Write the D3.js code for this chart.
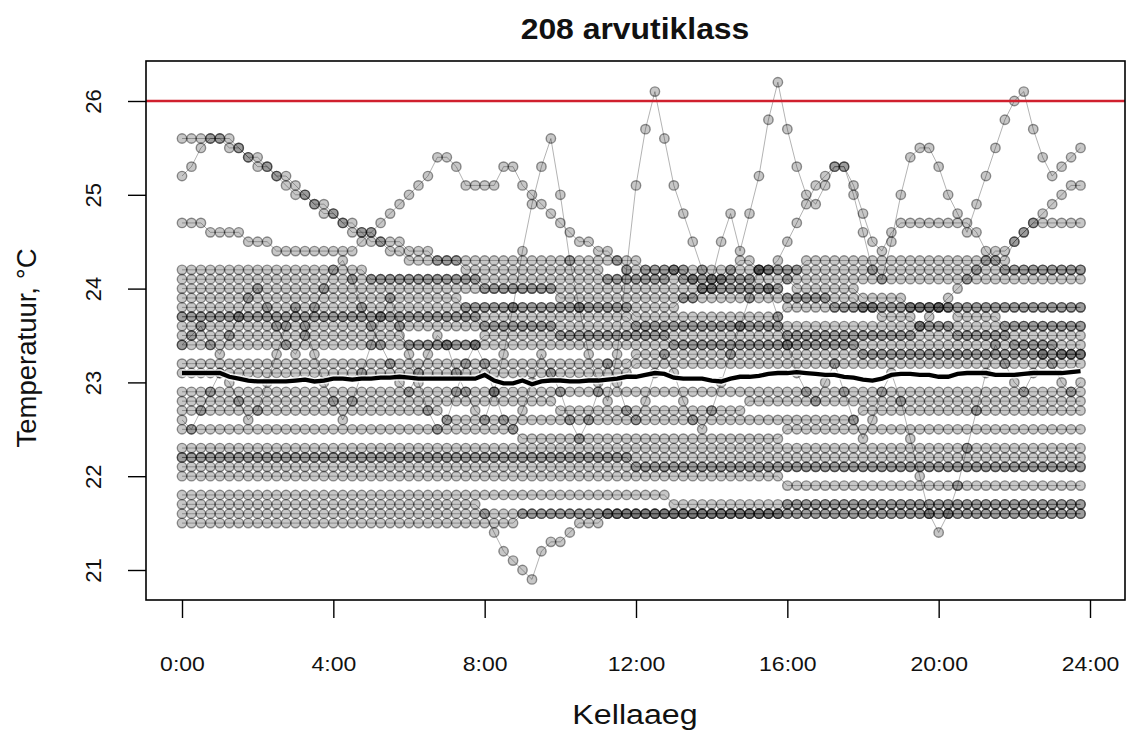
<!DOCTYPE html>
<html lang="et">
<head>
<meta charset="utf-8">
<title>208 arvutiklass</title>
<script src="https://cdn.jsdelivr.net/npm/d3@7"></script>
<style>
  body { margin: 0; background: #fff; }
  text { font-family: "Liberation Sans", Arial, sans-serif; fill: #111; }
</style>
</head>
<body>
<div id="chart"></div>
<script>
// tick values and labels
const xTicks = [0, 4, 8, 12, 16, 20, 24];
const xTickLabels = ["0:00", "4:00", "8:00", "12:00", "16:00", "20:00", "24:00"];
const yTicks = [21, 22, 23, 24, 25, 26];
const limit = 26;      // red line
const step = 0.25;     // hours between readings (15 min)

// one array per day, 96 readings from 0:00 to 23:45
const s01 = [25.2,25.3,25.5,25.6, 25.6,25.5,25.5,25.4, 25.3,25.3,25.2,25.1, 25.0,25.0,24.9,24.8, 24.8,24.7,24.6,24.6, 24.5,24.5,24.4,24.4,
  24.3,24.3,24.3,24.3, 24.3,24.3,24.2,24.2, 24.2,24.2,24.2,24.2, 24.2,24.2,24.2,24.2, 24.2,24.2,24.2,24.2, 24.2,24.1,24.1,24.1,
  24.1,24.1,24.1,24.1, 24.1,24.1,24.1,24.0, 24.0,24.0,24.0,24.0, 24.0,24.0,24.0,24.0, 23.9,23.9,23.9,23.9, 23.9,23.8,23.8,23.8,
  23.8,23.8,23.7,23.7, 23.7,23.7,23.6,23.6, 23.6,23.6,23.5,23.5, 23.5,23.5,23.5,23.5, 23.4,23.4,23.4,23.4, 23.4,23.3,23.3,23.3];
const s02 = [25.6,25.6,25.6,25.6, 25.6,25.6,25.5,25.4, 25.4,25.3,25.2,25.2, 25.1,25.0,24.9,24.9, 24.8,24.7,24.7,24.6, 24.6,24.5,24.5,24.5,
  24.4,24.4,24.4,24.3, 24.3,24.3,24.3,24.3, 24.3,24.3,24.3,24.3, 24.3,24.3,24.3,24.3, 24.3,24.3,24.3,24.3, 24.3,24.3,24.3,24.2,
  24.2,24.2,24.2,24.2, 24.2,24.2,24.1,24.1, 24.1,24.1,24.1,24.1, 24.1,24.1,24.1,24.1, 24.1,24.0,24.0,24.0, 24.0,24.0,24.0,24.0,
  23.9,23.9,23.9,23.9, 23.9,23.8,23.8,23.8, 23.8,23.8,23.7,23.7, 23.7,23.7,23.7,23.6, 23.6,23.6,23.6,23.6, 23.6,23.6,23.6,23.6];
const s03 = [24.7,24.7,24.7,24.6, 24.6,24.6,24.6,24.5, 24.5,24.5,24.4,24.4, 24.4,24.4,24.4,24.4, 24.4,24.4,24.4,24.5, 24.6,24.7,24.8,24.9,
  25.0,25.1,25.2,25.4, 25.4,25.3,25.1,25.1, 25.1,25.1,25.3,25.3, 25.1,25.0,24.9,24.8, 24.7,24.6,24.5,24.5, 24.4,24.4,24.3,24.3,
  24.3,24.2,24.2,24.2, 24.2,24.1,24.1,24.1, 24.1,24.1,24.1,24.1, 24.1,24.2,24.2,24.2, 24.2,24.2,24.3,24.3, 24.3,24.3,24.3,24.3,
  24.3,24.3,24.3,24.3, 24.3,24.3,24.3,24.3, 24.3,24.3,24.3,24.3, 24.3,24.3,24.3,24.2, 24.2,24.2,24.2,24.2, 24.2,24.2,24.2,24.2];
const s04 = [23.4,23.5,23.6,23.4, 23.3,23.5,23.7,23.9, 24.0,23.8,23.6,23.4, 23.3,23.5,23.8,24.0, 24.2,24.3,24.1,23.8, 23.6,23.4,23.2,23.0,
  22.9,23.1,23.3,23.5, 23.4,23.1,22.9,22.7, 22.6,22.9,23.3,23.8, 24.4,24.9,25.3,25.6, 25.0,24.3,23.8,23.3, 23.0,22.8,23.3,24.2,
  25.1,25.7,26.1,25.6, 25.1,24.8,24.5,24.2, 24.1,24.5,24.8,24.4, 24.8,25.2,25.8,26.2, 25.7,25.3,25.0,24.9, 25.1,25.3,25.3,25.0,
  24.6,24.2,24.1,24.5, 25.0,25.4,25.5,25.5, 25.3,25.0,24.8,24.6, 24.9,25.2,25.5,25.8, 26.0,26.1,25.7,25.4, 25.2,25.3,25.4,25.5];
const s05 = [22.6,22.5,22.7,22.9, 23.1,23.0,22.8,22.6, 22.7,23.0,23.3,23.6, 23.8,23.6,23.3,23.0, 22.8,22.6,22.8,23.1, 23.4,23.7,23.9,23.6,
  23.3,23.0,22.7,22.5, 22.6,22.9,23.2,23.4, 23.2,22.9,22.6,22.5, 22.7,23.0,23.3,23.1, 22.9,22.6,22.4,22.6, 22.9,23.2,23.0,22.7,
  22.6,22.8,23.1,23.3, 23.1,22.8,22.6,22.5, 22.7,23.0,23.3,23.6, 23.9,24.2,24.0,23.7, 23.4,23.1,22.9,22.8, 23.0,23.2,22.9,22.6,
  22.4,22.6,22.9,23.1, 22.8,22.4,22.0,21.6, 21.4,21.6,21.9,22.3, 22.7,23.1,23.4,23.2, 23.0,22.9,23.1,23.3, 23.2,23.0,22.9,23.0];
const s06 = [23.7,23.7,23.7,23.7, 23.7,23.7,23.7,23.7, 23.7,23.7,23.7,23.7, 23.7,23.7,23.7,23.7, 23.7,23.7,23.7,23.7, 23.7,23.7,23.7,23.7,
  23.7,23.7,23.7,23.7, 23.7,23.7,23.7,23.7, 23.6,23.6,23.6,23.6, 23.6,23.6,23.6,23.6, 23.6,23.6,23.6,23.6, 23.6,23.6,23.6,23.6,
  23.6,23.6,23.6,23.6, 23.6,23.6,23.6,23.6, 23.6,23.6,23.6,23.6, 23.6,23.6,23.6,23.6, 23.5,23.5,23.5,23.5, 23.5,23.5,23.5,23.5,
  23.5,23.5,23.5,23.5, 23.5,23.5,23.6,23.7, 23.8,23.9,24.0,24.1, 24.2,24.3,24.4,24.4, 24.5,24.6,24.7,24.8, 24.9,25.0,25.1,25.1];
const s07 = [23.9,23.9,23.9,23.9, 23.9,23.9,23.9,23.9, 23.9,23.9,23.9,23.9, 23.9,23.9,23.9,23.9, 23.9,23.9,23.9,23.9, 23.9,23.9,23.9,23.9,
  23.9,23.9,23.9,23.9, 23.9,23.9,23.8,23.8, 23.8,23.8,23.8,23.8, 23.8,23.8,23.8,23.8, 23.8,23.8,23.8,23.8, 23.8,23.8,23.8,23.8,
  23.8,23.8,23.8,23.8, 23.8,23.9,23.9,24.0, 24.0,24.1,24.2,24.3, 24.3,24.2,24.2,24.3, 24.5,24.7,24.9,25.1, 25.2,25.3,25.3,25.1,
  24.8,24.5,24.4,24.6, 24.7,24.7,24.7,24.7, 24.7,24.7,24.7,24.7, 24.6,24.4,24.3,24.3, 24.5,24.6,24.7,24.7, 24.7,24.7,24.7,24.7];
const s08 = [24.2,24.2,24.2,24.2, 24.2,24.2,24.2,24.2, 24.2,24.2,24.2,24.2, 24.2,24.2,24.2,24.2, 24.2,24.2,24.2,24.2, 24.1,24.1,24.1,24.1,
  24.1,24.1,24.1,24.1, 24.1,24.1,24.1,24.1, 24.1,24.1,24.1,24.1, 24.1,24.1,24.1,24.1, 24.1,24.1,24.1,24.1, 24.1,24.1,24.1,24.1,
  24.1,24.1,24.1,24.1, 24.2,24.2,24.2,24.2, 24.2,24.2,24.2,24.2, 24.2,24.2,24.2,24.2, 24.2,24.2,24.2,24.2, 24.2,24.2,24.2,24.2,
  24.2,24.2,24.2,24.2, 24.2,24.2,24.2,24.2, 24.2,24.2,24.2,24.2, 24.2,24.2,24.2,24.2, 24.2,24.2,24.2,24.2, 24.2,24.2,24.2,24.2];
const s09 = [24.1,24.1,24.1,24.1, 24.1,24.1,24.1,24.1, 24.1,24.1,24.1,24.1, 24.1,24.1,24.1,24.1, 24.1,24.1,24.1,24.1, 24.1,24.1,24.1,24.1,
  24.1,24.1,24.1,24.1, 24.1,24.1,24.1,24.1, 24.0,24.0,24.0,24.0, 24.0,24.0,24.0,24.0, 24.0,24.0,24.0,24.0, 24.0,24.0,24.0,24.0,
  24.0,24.0,24.0,24.0, 24.0,24.0,24.0,24.0, 24.0,24.0,24.0,24.0, 24.0,24.0,24.0,24.0, 24.1,24.1,24.1,24.1, 24.1,24.1,24.1,24.1,
  24.1,24.1,24.1,24.1, 24.1,24.1,24.1,24.1, 24.1,24.1,24.1,24.1, 24.1,24.1,24.1,24.1, 24.1,24.1,24.1,24.1, 24.1,24.1,24.1,24.1];
const s10 = [24.0,24.0,24.0,24.0, 24.0,24.0,24.0,24.0, 24.0,24.0,24.0,24.0, 24.0,24.0,24.0,24.0, 24.0,24.0,24.0,24.0, 24.0,24.0,24.0,24.0,
  24.0,24.0,24.0,24.0, 24.0,24.0,24.0,24.0, 24.0,24.0,24.0,24.0, 24.0,24.0,24.0,24.0, 23.9,23.9,23.9,23.9, 23.9,23.9,23.9,23.9,
  23.9,23.9,23.9,23.9, 23.9,23.9,23.9,23.9, 23.9,23.9,23.9,23.9, 23.9,23.9,23.9,23.9, 23.9,23.9,23.9,23.9, 23.9,23.9,23.9,23.9,
  23.8,23.8,23.8,23.8, 23.8,23.8,23.8,23.8, 23.8,23.8,23.8,23.8, 23.8,23.8,23.8,23.8, 23.8,23.8,23.8,23.8, 23.8,23.8,23.8,23.8];
const s11 = [23.8,23.8,23.8,23.8, 23.8,23.8,23.8,23.8, 23.8,23.8,23.8,23.8, 23.8,23.8,23.8,23.8, 23.8,23.8,23.8,23.8, 23.8,23.8,23.8,23.8,
  23.8,23.8,23.8,23.8, 23.8,23.8,23.8,23.8, 23.8,23.8,23.8,23.8, 23.8,23.8,23.8,23.8, 23.8,23.8,23.8,23.8, 23.8,23.8,23.8,23.8,
  23.7,23.7,23.7,23.7, 23.7,23.7,23.7,23.7, 23.7,23.7,23.7,23.7, 23.7,23.7,23.7,23.7, 23.8,23.8,23.8,23.8, 23.8,23.8,23.8,23.8,
  23.8,23.8,23.8,23.8, 23.8,23.8,23.8,23.8, 23.8,23.8,23.8,23.8, 23.8,23.8,23.8,23.8, 23.8,23.8,23.8,23.8, 23.8,23.8,23.8,23.8];
const s12 = [23.7,23.7,23.7,23.7, 23.7,23.7,23.7,23.7, 23.7,23.7,23.7,23.7, 23.7,23.7,23.7,23.7, 23.7,23.7,23.7,23.7, 23.7,23.7,23.7,23.7,
  23.7,23.7,23.7,23.7, 23.7,23.7,23.7,23.7, 23.7,23.7,23.7,23.7, 23.7,23.7,23.7,23.7, 23.7,23.7,23.7,23.7, 23.7,23.7,23.7,23.7,
  23.6,23.6,23.6,23.6, 23.6,23.6,23.6,23.6, 23.6,23.6,23.6,23.6, 23.6,23.6,23.6,23.6, 23.6,23.6,23.6,23.6, 23.6,23.6,23.6,23.6,
  23.6,23.6,23.6,23.6, 23.6,23.6,23.6,23.6, 23.6,23.6,23.6,23.6, 23.6,23.6,23.6,23.6, 23.6,23.6,23.6,23.6, 23.6,23.6,23.6,23.6];
const s13 = [23.6,23.6,23.6,23.6, 23.6,23.6,23.6,23.6, 23.6,23.6,23.6,23.6, 23.6,23.6,23.6,23.6, 23.6,23.6,23.6,23.6, 23.6,23.6,23.6,23.6,
  23.6,23.6,23.6,23.6, 23.6,23.6,23.6,23.6, 23.6,23.6,23.6,23.6, 23.6,23.6,23.6,23.6, 23.5,23.5,23.5,23.5, 23.5,23.5,23.5,23.5,
  23.5,23.5,23.5,23.5, 23.5,23.5,23.5,23.5, 23.5,23.5,23.5,23.5, 23.5,23.5,23.5,23.5, 23.5,23.5,23.5,23.5, 23.5,23.5,23.5,23.5,
  23.5,23.5,23.5,23.5, 23.5,23.5,23.5,23.5, 23.5,23.5,23.5,23.5, 23.5,23.5,23.5,23.5, 23.5,23.5,23.5,23.5, 23.5,23.5,23.5,23.5];
const s14 = [23.5,23.5,23.5,23.5, 23.5,23.5,23.5,23.5, 23.5,23.5,23.5,23.5, 23.5,23.5,23.5,23.5, 23.5,23.5,23.5,23.5, 23.5,23.5,23.5,23.5,
  23.4,23.4,23.4,23.4, 23.4,23.4,23.4,23.4, 23.4,23.4,23.4,23.4, 23.4,23.4,23.4,23.4, 23.4,23.4,23.4,23.4, 23.4,23.4,23.4,23.4,
  23.4,23.4,23.4,23.4, 23.4,23.4,23.4,23.4, 23.4,23.4,23.4,23.4, 23.4,23.4,23.4,23.4, 23.4,23.4,23.4,23.4, 23.4,23.4,23.4,23.4,
  23.3,23.3,23.3,23.3, 23.3,23.3,23.3,23.3, 23.3,23.3,23.3,23.3, 23.3,23.3,23.3,23.3, 23.3,23.3,23.3,23.3, 23.3,23.3,23.3,23.3];
const s15 = [23.4,23.4,23.4,23.4, 23.4,23.4,23.4,23.4, 23.4,23.4,23.4,23.4, 23.4,23.4,23.4,23.4, 23.4,23.4,23.4,23.4, 23.4,23.4,23.4,23.4,
  23.4,23.4,23.4,23.4, 23.4,23.4,23.4,23.4, 23.5,23.5,23.5,23.5, 23.5,23.5,23.5,23.5, 23.5,23.5,23.5,23.5, 23.5,23.5,23.5,23.5,
  23.5,23.5,23.5,23.5, 23.4,23.4,23.4,23.4, 23.4,23.4,23.4,23.4, 23.4,23.4,23.4,23.4, 23.4,23.4,23.4,23.4, 23.4,23.4,23.4,23.4,
  23.4,23.4,23.4,23.4, 23.4,23.4,23.4,23.4, 23.4,23.4,23.4,23.4, 23.4,23.4,23.4,23.4, 23.4,23.4,23.4,23.4, 23.4,23.4,23.4,23.4];
const s16 = [23.2,23.2,23.2,23.2, 23.2,23.2,23.2,23.2, 23.2,23.2,23.2,23.2, 23.2,23.2,23.2,23.2, 23.2,23.2,23.2,23.2, 23.2,23.2,23.2,23.2,
  23.2,23.2,23.2,23.2, 23.2,23.2,23.2,23.2, 23.2,23.2,23.2,23.2, 23.2,23.2,23.2,23.2, 23.2,23.2,23.2,23.2, 23.2,23.2,23.2,23.2,
  23.3,23.3,23.3,23.3, 23.3,23.3,23.3,23.3, 23.3,23.3,23.3,23.3, 23.3,23.3,23.3,23.3, 23.3,23.3,23.3,23.3, 23.3,23.3,23.3,23.3,
  23.3,23.3,23.3,23.3, 23.3,23.3,23.3,23.3, 23.3,23.3,23.3,23.3, 23.3,23.3,23.3,23.3, 23.3,23.3,23.3,23.3, 23.3,23.3,23.3,23.3];
const s17 = [23.1,23.1,23.1,23.1, 23.1,23.1,23.1,23.1, 23.1,23.1,23.1,23.1, 23.1,23.1,23.1,23.1, 23.1,23.1,23.1,23.1, 23.1,23.1,23.1,23.1,
  23.1,23.1,23.1,23.1, 23.1,23.1,23.1,23.1, 23.1,23.1,23.1,23.1, 23.1,23.1,23.1,23.1, 23.1,23.1,23.1,23.1, 23.1,23.1,23.1,23.1,
  23.2,23.2,23.2,23.2, 23.2,23.2,23.2,23.2, 23.2,23.2,23.2,23.2, 23.2,23.2,23.2,23.2, 23.2,23.2,23.2,23.2, 23.2,23.2,23.2,23.2,
  23.2,23.2,23.2,23.2, 23.2,23.2,23.2,23.2, 23.2,23.2,23.2,23.2, 23.2,23.2,23.2,23.2, 23.2,23.2,23.2,23.2, 23.2,23.2,23.2,23.2];
const s18 = [22.9,22.9,22.9,22.9, 22.9,22.9,22.9,22.9, 22.9,22.9,22.9,22.9, 22.9,22.9,22.9,22.9, 22.9,22.9,22.9,22.9, 22.9,22.9,22.9,22.9,
  22.9,22.9,22.9,22.9, 22.9,22.9,22.9,22.9, 22.9,22.9,22.9,22.9, 22.9,22.9,22.9,22.9, 22.9,22.9,22.9,22.9, 22.9,22.9,22.9,22.9,
  22.9,22.9,22.9,22.9, 22.9,22.9,22.9,22.9, 22.9,22.9,22.9,22.9, 22.9,22.9,22.9,22.9, 22.9,22.9,22.9,22.9, 22.9,22.9,22.9,22.9,
  22.9,22.9,22.9,22.9, 22.9,22.9,22.9,22.9, 22.9,22.9,22.9,22.9, 22.9,22.9,22.9,22.9, 22.9,22.9,22.9,22.9, 22.9,22.9,22.9,22.9];
const s19 = [22.8,22.8,22.8,22.8, 22.8,22.8,22.8,22.8, 22.8,22.8,22.8,22.8, 22.8,22.8,22.8,22.8, 22.8,22.8,22.8,22.8, 22.8,22.8,22.8,22.8,
  22.8,22.8,22.8,22.8, 22.8,22.8,22.8,22.8, 22.8,22.8,22.8,22.8, 22.8,22.8,22.8,22.8, 22.7,22.7,22.7,22.7, 22.7,22.7,22.7,22.7,
  22.7,22.7,22.7,22.7, 22.7,22.7,22.7,22.7, 22.7,22.7,22.7,22.7, 22.8,22.8,22.8,22.8, 22.8,22.8,22.8,22.8, 22.8,22.8,22.8,22.8,
  22.8,22.8,22.8,22.8, 22.8,22.8,22.8,22.8, 22.8,22.8,22.8,22.8, 22.8,22.8,22.8,22.8, 22.8,22.8,22.8,22.8, 22.8,22.8,22.8,22.8];
const s20 = [22.7,22.7,22.7,22.7, 22.7,22.7,22.7,22.7, 22.7,22.7,22.7,22.7, 22.7,22.7,22.7,22.7, 22.7,22.7,22.7,22.7, 22.7,22.7,22.7,22.7,
  22.7,22.7,22.7,22.7, 22.6,22.6,22.6,22.6, 22.6,22.6,22.6,22.6, 22.6,22.6,22.6,22.6, 22.6,22.6,22.6,22.6, 22.6,22.6,22.6,22.6,
  22.6,22.6,22.6,22.6, 22.6,22.6,22.6,22.6, 22.6,22.6,22.6,22.6, 22.6,22.6,22.6,22.6, 22.6,22.6,22.6,22.6, 22.6,22.6,22.6,22.6,
  22.7,22.7,22.7,22.7, 22.7,22.7,22.7,22.7, 22.7,22.7,22.7,22.7, 22.7,22.7,22.7,22.7, 22.7,22.7,22.7,22.7, 22.7,22.7,22.7,22.7];
const s21 = [22.5,22.5,22.5,22.5, 22.5,22.5,22.5,22.5, 22.5,22.5,22.5,22.5, 22.5,22.5,22.5,22.5, 22.5,22.5,22.5,22.5, 22.5,22.5,22.5,22.5,
  22.5,22.5,22.5,22.5, 22.5,22.5,22.5,22.5, 22.5,22.5,22.5,22.5, 22.4,22.4,22.4,22.4, 22.4,22.4,22.4,22.4, 22.4,22.4,22.4,22.4,
  22.4,22.4,22.4,22.4, 22.4,22.4,22.4,22.4, 22.4,22.4,22.4,22.4, 22.4,22.4,22.4,22.4, 22.5,22.5,22.5,22.5, 22.5,22.5,22.5,22.5,
  22.5,22.5,22.5,22.5, 22.5,22.5,22.5,22.5, 22.5,22.5,22.5,22.5, 22.5,22.5,22.5,22.5, 22.5,22.5,22.5,22.5, 22.5,22.5,22.5,22.5];
const s22 = [22.3,22.3,22.3,22.3, 22.3,22.3,22.3,22.3, 22.3,22.3,22.3,22.3, 22.3,22.3,22.3,22.3, 22.3,22.3,22.3,22.3, 22.3,22.3,22.3,22.3,
  22.3,22.3,22.3,22.3, 22.3,22.3,22.3,22.3, 22.3,22.3,22.3,22.3, 22.3,22.3,22.3,22.3, 22.3,22.3,22.3,22.3, 22.3,22.3,22.3,22.3,
  22.3,22.3,22.3,22.3, 22.3,22.3,22.3,22.3, 22.3,22.3,22.3,22.3, 22.3,22.3,22.3,22.3, 22.3,22.3,22.3,22.3, 22.3,22.3,22.3,22.3,
  22.3,22.3,22.3,22.3, 22.3,22.3,22.3,22.3, 22.3,22.3,22.3,22.3, 22.3,22.3,22.3,22.3, 22.3,22.3,22.3,22.3, 22.3,22.3,22.3,22.3];
const s23 = [22.2,22.2,22.2,22.2, 22.2,22.2,22.2,22.2, 22.2,22.2,22.2,22.2, 22.2,22.2,22.2,22.2, 22.2,22.2,22.2,22.2, 22.2,22.2,22.2,22.2,
  22.2,22.2,22.2,22.2, 22.2,22.2,22.2,22.2, 22.2,22.2,22.2,22.2, 22.2,22.2,22.2,22.2, 22.2,22.2,22.2,22.2, 22.2,22.2,22.2,22.2,
  22.2,22.2,22.2,22.2, 22.2,22.2,22.2,22.2, 22.2,22.2,22.2,22.2, 22.2,22.2,22.2,22.2, 22.2,22.2,22.2,22.2, 22.2,22.2,22.2,22.2,
  22.2,22.2,22.2,22.2, 22.2,22.2,22.2,22.2, 22.2,22.2,22.2,22.2, 22.2,22.2,22.2,22.2, 22.2,22.2,22.2,22.2, 22.2,22.2,22.2,22.2];
const s24 = [22.1,22.1,22.1,22.1, 22.1,22.1,22.1,22.1, 22.1,22.1,22.1,22.1, 22.1,22.1,22.1,22.1, 22.1,22.1,22.1,22.1, 22.1,22.1,22.1,22.1,
  22.1,22.1,22.1,22.1, 22.1,22.1,22.1,22.1, 22.1,22.1,22.1,22.1, 22.1,22.1,22.1,22.1, 22.1,22.1,22.1,22.1, 22.1,22.1,22.1,22.1,
  22.1,22.1,22.1,22.1, 22.1,22.1,22.1,22.1, 22.1,22.1,22.1,22.1, 22.1,22.1,22.1,22.1, 22.1,22.1,22.1,22.1, 22.1,22.1,22.1,22.1,
  22.1,22.1,22.1,22.1, 22.1,22.1,22.1,22.1, 22.1,22.1,22.1,22.1, 22.1,22.1,22.1,22.1, 22.1,22.1,22.1,22.1, 22.1,22.1,22.1,22.1];
const s25 = [22.2,22.2,22.2,22.2, 22.2,22.2,22.2,22.2, 22.2,22.2,22.2,22.2, 22.2,22.2,22.2,22.2, 22.2,22.2,22.2,22.2, 22.2,22.2,22.2,22.2,
  22.2,22.2,22.2,22.2, 22.2,22.2,22.2,22.2, 22.2,22.2,22.2,22.2, 22.2,22.2,22.2,22.2, 22.2,22.2,22.2,22.2, 22.2,22.2,22.2,22.2,
  22.1,22.1,22.1,22.1, 22.1,22.1,22.1,22.1, 22.1,22.1,22.1,22.1, 22.1,22.1,22.1,22.1, 22.1,22.1,22.1,22.1, 22.1,22.1,22.1,22.1,
  22.1,22.1,22.1,22.1, 22.1,22.1,22.1,22.1, 22.1,22.1,22.1,22.1, 22.1,22.1,22.1,22.1, 22.1,22.1,22.1,22.1, 22.1,22.1,22.1,22.1];
const s26 = [22.0,22.0,22.0,22.0, 22.0,22.0,22.0,22.0, 22.0,22.0,22.0,22.0, 22.0,22.0,22.0,22.0, 22.0,22.0,22.0,22.0, 22.0,22.0,22.0,22.0,
  22.0,22.0,22.0,22.0, 22.0,22.0,22.0,22.0, 22.0,22.0,22.0,22.0, 22.0,22.0,22.0,22.0, 22.0,22.0,22.0,22.0, 22.0,22.0,22.0,22.0,
  22.0,22.0,22.0,22.0, 22.0,22.0,22.0,22.0, 22.0,22.0,22.0,22.0, 22.0,22.0,22.0,22.0, 21.9,21.9,21.9,21.9, 21.9,21.9,21.9,21.9,
  21.9,21.9,21.9,21.9, 21.9,21.9,21.9,21.9, 21.9,21.9,21.9,21.9, 21.9,21.9,21.9,21.9, 21.9,21.9,21.9,21.9, 21.9,21.9,21.9,21.9];
const s27 = [21.8,21.8,21.8,21.8, 21.8,21.8,21.8,21.8, 21.8,21.8,21.8,21.8, 21.8,21.8,21.8,21.8, 21.8,21.8,21.8,21.8, 21.8,21.8,21.8,21.8,
  21.8,21.8,21.8,21.8, 21.8,21.8,21.8,21.8, 21.8,21.8,21.8,21.8, 21.8,21.8,21.8,21.8, 21.8,21.8,21.8,21.8, 21.8,21.8,21.8,21.8,
  21.8,21.8,21.8,21.8, 21.7,21.7,21.7,21.7, 21.7,21.7,21.7,21.7, 21.7,21.7,21.7,21.7, 21.7,21.7,21.7,21.7, 21.7,21.7,21.7,21.7,
  21.7,21.7,21.7,21.7, 21.7,21.7,21.7,21.7, 21.7,21.7,21.7,21.7, 21.7,21.7,21.7,21.7, 21.7,21.7,21.7,21.7, 21.7,21.7,21.7,21.7];
const s28 = [21.6,21.6,21.6,21.6, 21.6,21.6,21.6,21.6, 21.6,21.6,21.6,21.6, 21.6,21.6,21.6,21.6, 21.6,21.6,21.6,21.6, 21.6,21.6,21.6,21.6,
  21.6,21.6,21.6,21.6, 21.6,21.6,21.6,21.6, 21.6,21.6,21.6,21.6, 21.6,21.6,21.6,21.6, 21.6,21.6,21.6,21.6, 21.6,21.6,21.6,21.6,
  21.6,21.6,21.6,21.6, 21.6,21.6,21.6,21.6, 21.6,21.6,21.6,21.6, 21.6,21.6,21.6,21.6, 21.6,21.6,21.6,21.6, 21.6,21.6,21.6,21.6,
  21.6,21.6,21.6,21.6, 21.6,21.6,21.6,21.6, 21.6,21.6,21.6,21.6, 21.6,21.6,21.6,21.6, 21.6,21.6,21.6,21.6, 21.6,21.6,21.6,21.6];
const s29 = [21.5,21.5,21.5,21.5, 21.5,21.5,21.5,21.5, 21.5,21.5,21.5,21.5, 21.5,21.5,21.5,21.5, 21.5,21.5,21.5,21.5, 21.5,21.5,21.5,21.5,
  21.5,21.5,21.5,21.5, 21.5,21.5,21.5,21.5, 21.5,21.5,21.5,21.5, 21.6,21.6,21.6,21.6, 21.6,21.6,21.6,21.6, 21.6,21.6,21.6,21.6,
  21.6,21.6,21.6,21.6, 21.6,21.6,21.6,21.6, 21.6,21.6,21.6,21.6, 21.6,21.6,21.6,21.6, 21.6,21.6,21.6,21.6, 21.6,21.6,21.6,21.6,
  21.6,21.6,21.6,21.6, 21.6,21.6,21.6,21.6, 21.6,21.6,21.6,21.6, 21.6,21.6,21.6,21.6, 21.6,21.6,21.6,21.6, 21.6,21.6,21.6,21.6];
const s30 = [21.7,21.7,21.7,21.7, 21.7,21.7,21.7,21.7, 21.7,21.7,21.7,21.7, 21.7,21.7,21.7,21.7, 21.7,21.7,21.7,21.7, 21.7,21.7,21.7,21.7,
  21.7,21.7,21.7,21.7, 21.7,21.7,21.7,21.7, 21.6,21.4,21.2,21.1, 21.0,20.9,21.2,21.3, 21.3,21.4,21.5,21.5, 21.5,21.6,21.6,21.6,
  21.6,21.6,21.6,21.6, 21.6,21.6,21.6,21.6, 21.6,21.6,21.6,21.6, 21.6,21.6,21.6,21.6, 21.7,21.7,21.7,21.7, 21.7,21.7,21.7,21.7,
  21.7,21.7,21.7,21.7, 21.7,21.7,21.7,21.7, 21.7,21.7,21.7,21.7, 21.7,21.7,21.7,21.7, 21.7,21.7,21.7,21.7, 21.7,21.7,21.7,21.7];

const days = [s01, s02, s03, s04, s05, s06, s07, s08, s09, s10, s11, s12, s13, s14, s15,
              s16, s17, s18, s19, s20, s21, s22, s23, s24, s25, s26, s27, s28, s29, s30];

// average over all days
const meanTemp = [23.10,23.10,23.10,23.10, 23.10,23.06,23.04,23.02, 23.01,23.01,23.01,23.01, 23.02,23.03,23.01,23.02, 23.04,23.04,23.03,23.04, 23.04,23.05,23.05,23.06,
  23.05,23.04,23.04,23.04, 23.04,23.04,23.04,23.04, 23.08,23.02,22.99,22.99, 23.02,22.98,23.01,23.02, 23.02,23.01,23.01,23.02, 23.02,23.03,23.04,23.06,
  23.06,23.08,23.10,23.09, 23.05,23.04,23.04,23.04, 23.02,23.01,23.04,23.06, 23.06,23.07,23.09,23.10, 23.10,23.11,23.10,23.09, 23.08,23.08,23.06,23.05,
  23.03,23.02,23.04,23.08, 23.09,23.09,23.08,23.08, 23.06,23.06,23.09,23.10, 23.10,23.10,23.08,23.08, 23.08,23.09,23.10,23.10, 23.10,23.10,23.11,23.12];

const width = 1127, height = 736;
const box = {left: 146, right: 1125, top: 61, bottom: 600};

const svg = d3.select("#chart").append("svg")
  .attr("width", width)
  .attr("height", height);

// light blur so the overlapping points smear together like in the original
svg.append("defs").append("filter")
    .attr("id", "soft")
  .append("feGaussianBlur")
    .attr("stdDeviation", 0.6);

const x = d3.scaleLinear().domain([0, 24]).range([182, 1090]);
const y = d3.scaleLinear().domain([21, 26]).range([570, 101]);

const line = d3.line()
  .x((d, i) => x(i * step))
  .y(d => y(d));

// every day: thin line + points
const dayG = svg.append("g").attr("filter", "url(#soft)");
days.forEach(day => {
  const g = dayG.append("g");
  g.append("path")
    .datum(day)
    .attr("d", line)
    .attr("fill", "none")
    .attr("stroke", "rgba(0,0,0,0.3)")
    .attr("stroke-width", 1);
  g.selectAll("circle")
    .data(day)
    .join("circle")
      .attr("cx", (d, i) => x(i * step))
      .attr("cy", d => y(d))
      .attr("r", 4.7)
      .attr("fill", "rgba(0,0,0,0.22)")
      .attr("stroke", "rgba(0,0,0,0.42)")
      .attr("stroke-width", 1.4);
});

// mean line
svg.append("path")
  .datum(meanTemp)
  .attr("d", line)
  .attr("fill", "none")
  .attr("stroke", "rgba(255,255,255,0.8)")
  .attr("stroke-width", 7.5);
svg.append("path")
  .datum(meanTemp)
  .attr("d", line)
  .attr("fill", "none")
  .attr("stroke", "#000")
  .attr("stroke-width", 4.3);

// limit line
svg.append("line")
  .attr("x1", box.left).attr("x2", box.right)
  .attr("y1", y(limit)).attr("y2", y(limit))
  .attr("stroke", "#d0202e")
  .attr("stroke-width", 2.4);

// plot frame
svg.append("rect")
  .attr("x", box.left).attr("y", box.top)
  .attr("width", box.right - box.left)
  .attr("height", box.bottom - box.top)
  .attr("fill", "none")
  .attr("stroke", "#000")
  .attr("stroke-width", 1.6);

// x axis
const xAxis = svg.append("g")
  .attr("transform", `translate(0,${box.bottom})`)
  .call(d3.axisBottom(x).tickValues(xTicks).tickSize(18)
    .tickFormat((d, i) => xTickLabels[i]));
xAxis.select(".domain").remove();
xAxis.selectAll(".tick line").attr("stroke", "#000").attr("stroke-width", 1.4);
xAxis.selectAll(".tick text")
  .attr("y", null).attr("dy", null)
  .attr("transform", "translate(0,71) scale(1.15,1)")
  .attr("font-size", 20)
  .attr("font-family", "Liberation Sans, Arial, sans-serif")
  .attr("fill", "#111");

// y axis
const yAxis = svg.append("g")
  .attr("transform", `translate(${box.left},0)`)
  .call(d3.axisLeft(y).tickValues(yTicks).tickSize(18).tickFormat(d3.format("d")));
yAxis.select(".domain").remove();
yAxis.selectAll(".tick line").attr("stroke", "#000").attr("stroke-width", 1.4);
yAxis.selectAll(".tick text")
  .attr("x", null).attr("dy", null)
  .attr("transform", "translate(-45,0) rotate(-90)")
  .attr("text-anchor", "middle")
  .attr("font-size", 22)
  .attr("font-family", "Liberation Sans, Arial, sans-serif")
  .attr("fill", "#111");

// title and axis titles
svg.append("text")
  .attr("transform", "translate(635,39) scale(1.1,1)")
  .attr("text-anchor", "middle")
  .attr("font-size", 29)
  .attr("font-weight", "bold")
  .text("208 arvutiklass");

svg.append("text")
  .attr("transform", "translate(635,724) scale(1.15,1)")
  .attr("text-anchor", "middle")
  .attr("font-size", 28)
  .text("Kellaaeg");

svg.append("text")
  .attr("transform", "translate(36,348) rotate(-90)")
  .attr("text-anchor", "middle")
  .attr("font-size", 27.5)
  .text("Temperatuur, °C");
</script>
</body>
</html>
